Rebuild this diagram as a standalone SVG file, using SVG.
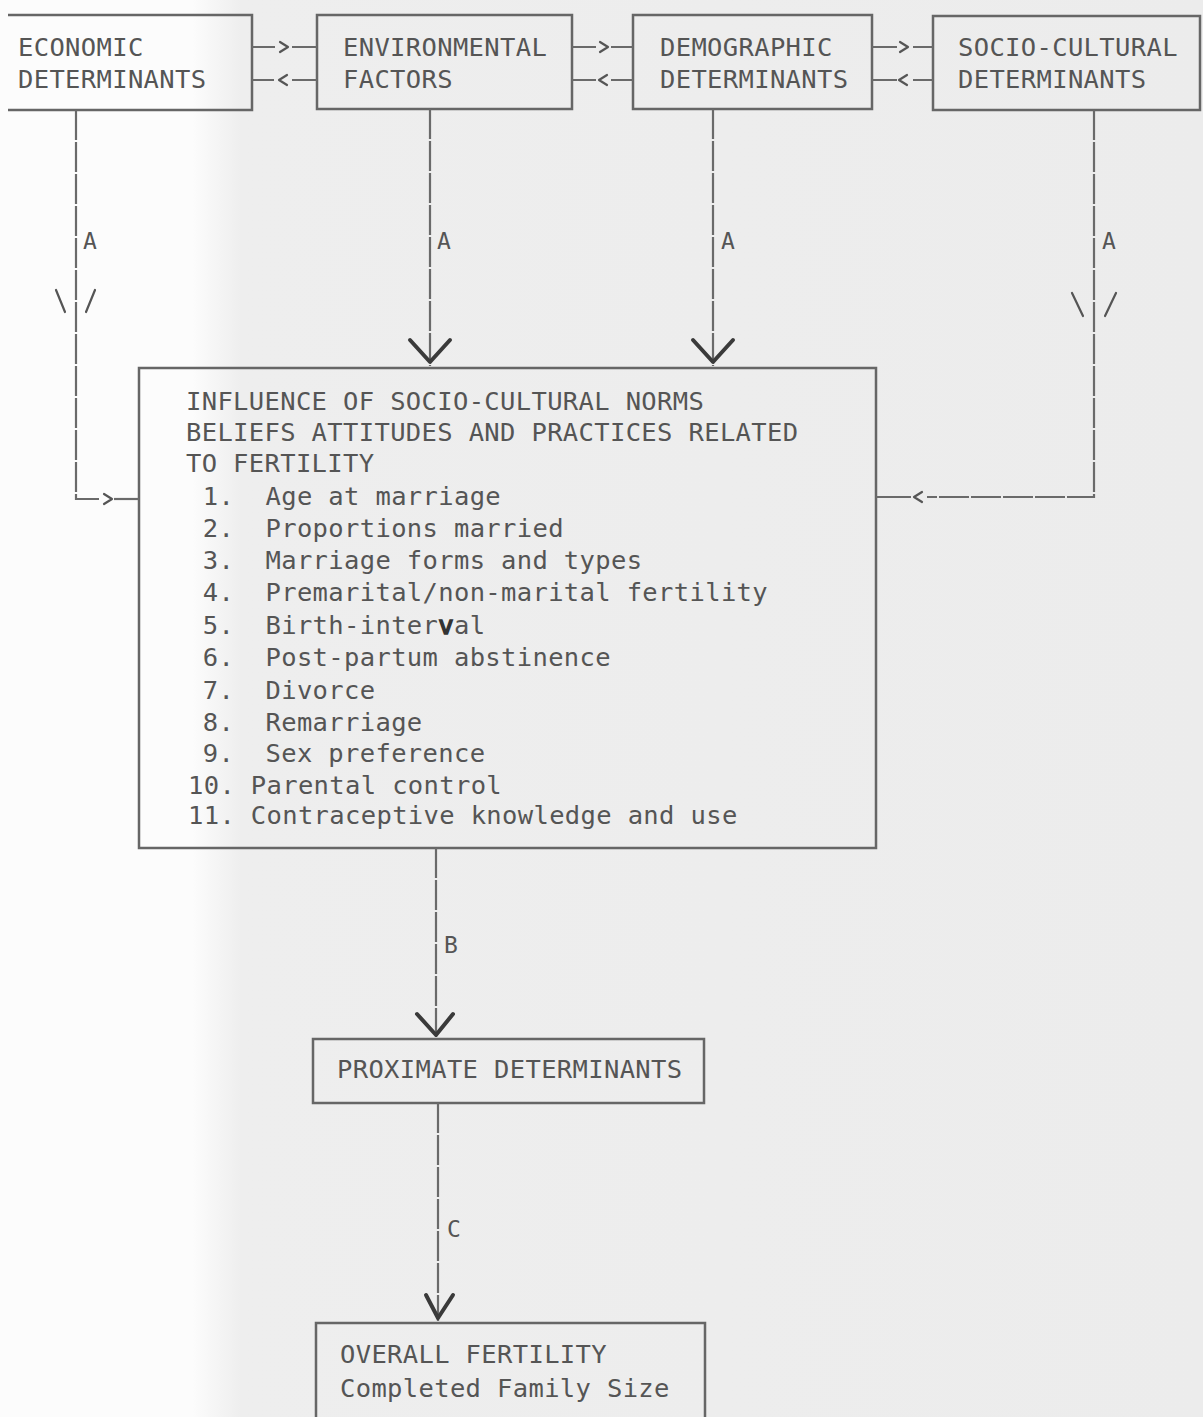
<svg xmlns="http://www.w3.org/2000/svg" width="1203" height="1417" viewBox="0 0 1203 1417">
<defs>
<linearGradient id="bg" x1="0" y1="0" x2="1203" y2="0" gradientUnits="userSpaceOnUse">
<stop offset="0.16" stop-color="#fcfcfc"/>
<stop offset="0.2" stop-color="#eeeeee"/>
<stop offset="1" stop-color="#ececec"/>
</linearGradient>
</defs>
<style>
.t{font-family:"DejaVu Sans Mono","Liberation Mono",monospace;font-size:25.5px;letter-spacing:0.35px;fill:#555;}
.lbl{font-family:"DejaVu Sans Mono","Liberation Mono",monospace;font-size:23px;fill:#555;}
.box{fill:none;stroke:#666;stroke-width:2.5;}
.ln{fill:none;stroke:#6a6a6a;stroke-width:2.2;}
.vl{fill:none;stroke:#6a6a6a;stroke-width:2.2;stroke-dasharray:30 2;}
.ah{fill:none;stroke:#555;stroke-width:2.2;stroke-linecap:round;stroke-linejoin:round;}
.hv{fill:none;stroke:#3a3a3a;stroke-width:4;stroke-linecap:round;stroke-linejoin:round;}
</style>
<rect x="0" y="0" width="1203" height="1417" fill="url(#bg)"/>

<g id="economic">
<path class="box" d="M8,15 H252 V110 H8"/>
<text class="t" x="18" y="56">ECONOMIC</text>
<text class="t" x="18" y="88">DETERMINANTS</text>
</g>
<g id="environmental">
<rect class="box" x="317" y="15" width="255" height="94"/>
<text class="t" x="343" y="56">ENVIRONMENTAL</text>
<text class="t" x="343" y="88">FACTORS</text>
</g>
<g id="demographic">
<rect class="box" x="633" y="15" width="239" height="94"/>
<text class="t" x="660" y="56">DEMOGRAPHIC</text>
<text class="t" x="660" y="88">DETERMINANTS</text>
</g>
<g id="sociocultural">
<rect class="box" x="933" y="16" width="267" height="94"/>
<text class="t" x="958" y="56">SOCIO-CULTURAL</text>
<text class="t" x="958" y="88">DETERMINANTS</text>
</g>

<g id="influence">
<rect class="box" x="139" y="368" width="737" height="480"/>
<text class="t" x="186" y="410">INFLUENCE OF SOCIO-CULTURAL NORMS</text>
<text class="t" x="186" y="441">BELIEFS ATTITUDES AND PRACTICES RELATED</text>
<text class="t" x="186" y="472">TO FERTILITY</text>
<text class="t" x="187" y="505" xml:space="preserve"> 1.  Age at marriage</text>
<text class="t" x="187" y="537" xml:space="preserve"> 2.  Proportions married</text>
<text class="t" x="187" y="569" xml:space="preserve"> 3.  Marriage forms and types</text>
<text class="t" x="187" y="601" xml:space="preserve"> 4.  Premarital/non-marital fertility</text>
<text class="t" x="187" y="634" xml:space="preserve"> 5.  Birth-inter<tspan fill="#333" stroke="#333" stroke-width="1.5">v</tspan>al</text>
<text class="t" x="187" y="666" xml:space="preserve"> 6.  Post-partum abstinence</text>
<text class="t" x="187" y="699" xml:space="preserve"> 7.  Divorce</text>
<text class="t" x="187" y="731" xml:space="preserve"> 8.  Remarriage</text>
<text class="t" x="187" y="762" xml:space="preserve"> 9.  Sex preference</text>
<text class="t" x="188" y="794">10. Parental control</text>
<text class="t" x="188" y="824">11. Contraceptive knowledge and use</text>
</g>

<g id="proximate">
<rect class="box" x="313" y="1039" width="391" height="64"/>
<text class="t" x="337" y="1078">PROXIMATE DETERMINANTS</text>
</g>

<g id="overall">
<path class="box" d="M316,1420 V1323 H705 V1420"/>
<text class="t" x="340" y="1363">OVERALL FERTILITY</text>
<text class="t" x="340" y="1397">Completed Family Size</text>
</g>

<g id="connectors">
<path class="ln" d="M252,47 H275 M292,47 H317 M252,80 H274 M292,80 H317"/>
<path class="ah" d="M280,42 L288,47 L280,52 M287,75 L279,80 L287,85"/>
<path class="ln" d="M572,47 H596 M611,47 H633 M572,80 H596 M611,80 H633"/>
<path class="ah" d="M600,42 L608,47 L600,52 M607,75 L599,80 L607,85"/>
<path class="ln" d="M872,47 H897 M913,47 H933 M872,80 H897 M913,80 H933"/>
<path class="ah" d="M900,42 L908,47 L900,52 M907,75 L899,80 L907,85"/>

<path class="vl" d="M76,110 V499 H99"/>
<path class="ln" d="M114,499 H139"/>
<path class="ah" d="M104,494 L112,499 L104,504"/>
<path class="ah" d="M56,290 L65,312 M95,290 L86,312"/>
<text class="lbl" x="83" y="249">A</text>

<path class="vl" d="M430,109 V366"/>
<path class="hv" d="M410,340 L430,362 L450,340"/>
<text class="lbl" x="437" y="249">A</text>

<path class="vl" d="M713,109 V366"/>
<path class="hv" d="M693,340 L713,362 L733,340"/>
<text class="lbl" x="721" y="249">A</text>

<path class="vl" d="M1094,110 V497 H927"/>
<path class="ln" d="M911,497 H876"/>
<path class="ah" d="M922,492 L914,497 L922,502"/>
<path class="ah" d="M1072,293 L1083,316 M1116,293 L1105,316"/>
<text class="lbl" x="1102" y="249">A</text>

<path class="vl" d="M436,848 V1037"/>
<path class="hv" d="M417,1014 L436,1035 L453,1014"/>
<text class="lbl" x="444" y="953">B</text>

<path class="vl" d="M438,1103 V1321"/>
<path class="hv" d="M426,1295 L438,1318 L453,1295"/>
<text class="lbl" x="447" y="1237">C</text>
</g>
</svg>
